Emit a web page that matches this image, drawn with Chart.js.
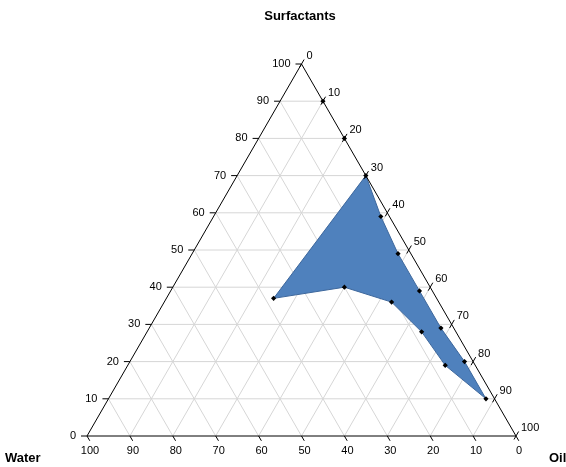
<!DOCTYPE html>
<html>
<head>
<meta charset="utf-8">
<script src="https://cdn.jsdelivr.net/npm/chart.js@4.4.0/dist/chart.umd.min.js"></script>
<style>
  html, body { margin: 0; padding: 0; background: #fff; }
  #wrap { width: 566px; height: 467px; }
</style>
</head>
<body>
<div id="wrap"><canvas id="chart" width="566" height="467"></canvas></div>
<script>
// composition of the region boundary, in percent (water + surfactant + oil = 100)
const waterPct      = [0,  2,  3,  3,  3,  2,  2,  7,  8, 11, 20, 38];
const surfactantPct = [70, 59, 49, 39, 29, 20, 10, 19, 28, 36, 40, 37];
const oilPct        = [30, 39, 48, 58, 68, 78, 88, 74, 64, 53, 40, 25];

// extra measured points on the oil/surfactant side
const extraWater      = [0, 0];
const extraSurfactant = [90, 80];
const extraOil        = [10, 20];

const axisTicks = [0, 10, 20, 30, 40, 50, 60, 70, 80, 90, 100];
const gridTicks = [10, 20, 30, 40, 50, 60, 70, 80, 90];

const FONT = '"Liberation Sans", Arial, sans-serif';

// ternary -> cartesian (x along the base, y = surfactant height)
function toXY(w, s, o) {
    return { x: o + s / 2, y: s };
}

const regionPts = waterPct.map((w, i) => toXY(w, surfactantPct[i], oilPct[i]));
const extraPts = extraWater.map((w, i) => toXY(w, extraSurfactant[i], extraOil[i]));

// grid lines in the three directions
const gridSets = [];
gridTicks.forEach(t => {
    gridSets.push([toXY(100 - t, t, 0), toXY(0, t, 100 - t)]);   // constant surfactant
    gridSets.push([toXY(100 - t, 0, t), toXY(0, 100 - t, t)]);   // constant oil
    gridSets.push([toXY(t, 0, 100 - t), toXY(t, 100 - t, 0)]);   // constant water
});

const datasets = [];

datasets.push({
    data: regionPts.concat(extraPts),
    showLine: false,
    pointStyle: 'rectRot',
    pointRadius: 2.6,
    pointBackgroundColor: '#000',
    pointBorderColor: '#000',
    pointBorderWidth: 0,
    order: 0,
    clip: false
});

datasets.push({
    data: [toXY(100, 0, 0), toXY(0, 0, 100), toXY(0, 100, 0), toXY(100, 0, 0)],
    showLine: true,
    borderColor: '#000',
    borderWidth: 1,
    pointRadius: 0,
    fill: false,
    order: 1,
    clip: false
});

datasets.push({
    data: regionPts.concat([regionPts[0]]),
    showLine: true,
    borderColor: '#3d679c',
    borderWidth: 1,
    backgroundColor: '#4f81bd',
    fill: 'shape',
    pointRadius: 0,
    tension: 0,
    order: 2,
    clip: false
});

gridSets.forEach(seg => {
    datasets.push({
        data: seg,
        showLine: true,
        borderColor: '#d6d6d6',
        borderWidth: 1,
        pointRadius: 0,
        fill: false,
        order: 3,
        clip: false
    });
});

const ternaryAxes = {
    id: 'ternaryAxes',
    afterDatasetsDraw(chart) {
        const ctx = chart.ctx;
        const xs = chart.scales.x, ys = chart.scales.y;
        const px = p => ({ x: xs.getPixelForValue(p.x), y: ys.getPixelForValue(p.y) });
        ctx.save();
        ctx.strokeStyle = '#000';
        ctx.fillStyle = '#000';
        ctx.lineWidth = 1;
        ctx.font = '11px ' + FONT;

        axisTicks.forEach(t => {
            // left axis: surfactant
            let p = px(toXY(100 - t, t, 0));
            ctx.beginPath();
            ctx.moveTo(p.x - 6, p.y);
            ctx.lineTo(p.x, p.y);
            ctx.stroke();
            ctx.textAlign = 'right';
            ctx.textBaseline = 'middle';
            ctx.fillText(String(t), p.x - 11, p.y);

            // right axis: oil
            p = px(toXY(0, 100 - t, t));
            ctx.beginPath();
            ctx.moveTo(p.x - 2, p.y + 3.5);
            ctx.lineTo(p.x + 2.6, p.y - 4.5);
            ctx.stroke();
            ctx.textAlign = 'left';
            ctx.fillText(String(t), p.x + 5, p.y - 8);

            // bottom axis: water
            p = px(toXY(t, 0, 100 - t));
            ctx.beginPath();
            ctx.moveTo(p.x, p.y);
            ctx.lineTo(p.x + 2.8, p.y + 4.8);
            ctx.stroke();
            ctx.textAlign = 'center';
            ctx.fillText(String(t), p.x + 3, p.y + 15);
        });

        ctx.font = 'bold 13px ' + FONT;
        ctx.textBaseline = 'middle';
        ctx.textAlign = 'center';
        ctx.fillText('Surfactants', 300, 16);
        ctx.textAlign = 'left';
        ctx.fillText('Water', 5, 458);
        ctx.fillText('Oil', 549, 458);
        ctx.restore();
    }
};

new Chart(document.getElementById('chart').getContext('2d'), {
    type: 'scatter',
    data: { datasets },
    options: {
        responsive: false,
        animation: false,
        layout: { padding: { left: 87, right: 50, top: 64, bottom: 31 } },
        plugins: {
            legend: { display: false },
            tooltip: { enabled: false },
            title: { display: false }
        },
        scales: {
            x: { type: 'linear', min: 0, max: 100, display: false },
            y: { type: 'linear', min: 0, max: 100, display: false }
        }
    },
    plugins: [ternaryAxes]
});
</script>
</body>
</html>
